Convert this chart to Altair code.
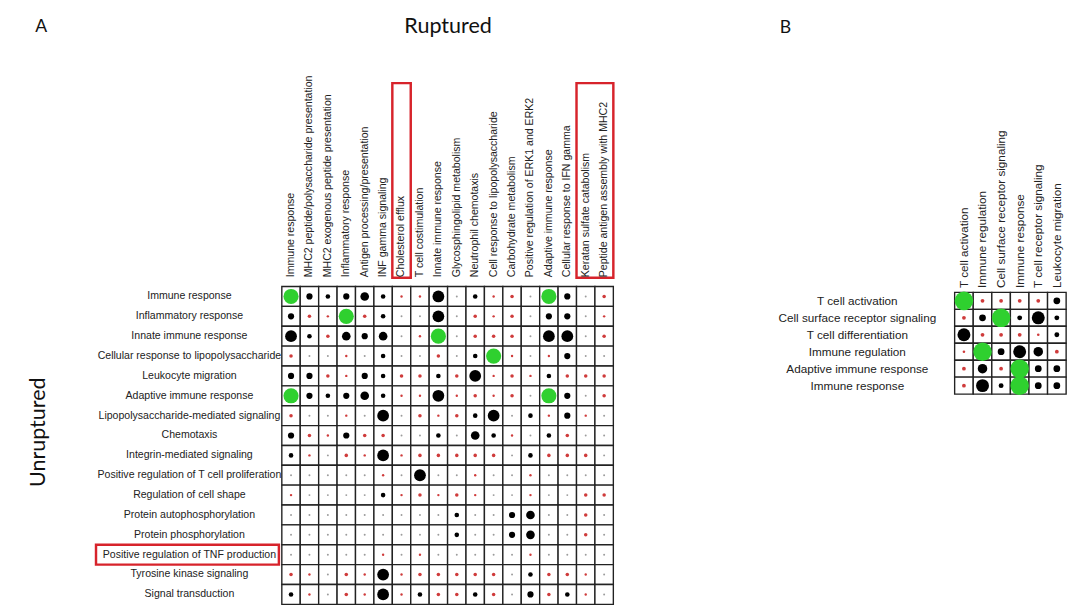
import altair as alt
import pandas as pd

# ---------------- data ----------------
COLS_A = [
    "Immune response",
    "MHC2 peptide/polysaccharide presentation",
    "MHC2 exogenous peptide presentation",
    "Inflammatory response",
    "Antigen processing/presentation",
    "INF gamma signaling",
    "Cholesterol efflux",
    "T cell costimulation",
    "Innate immune response",
    "Glycosphingolipid metabolism",
    "Neutrophil chemotaxis",
    "Cell response to lipopolysaccharide",
    "Carbohydrate metabolism",
    "Positive regulation of ERK1 and ERK2",
    "Adaptive immune response",
    "Cellular response to IFN gamma",
    "Keratan sulfate catabolism",
    "Peptide antigen assembly with MHC2",
]
ROWS_A = [
    "Immune response",
    "Inflammatory response",
    "Innate immune response",
    "Cellular response to lipopolysaccharide",
    "Leukocyte migration",
    "Adaptive immune response",
    "Lipopolysaccharide-mediated signaling",
    "Chemotaxis",
    "Integrin-mediated signaling",
    "Positive regulation of T cell proliferation",
    "Regulation of cell shape",
    "Protein autophosphorylation",
    "Protein phosphorylation",
    "Positive regulation of TNF production",
    "Tyrosine kinase signaling",
    "Signal transduction",
]
# overlap level per cell: 0 none, 1-2 weak (red), 3-6 strong (black), 7 identical term (green)
LEVELS_A = [
    [7, 4, 3, 4, 5, 3, 1, 1, 6, 0, 3, 1, 2, 0, 7, 4, 0, 2],
    [4, 2, 1, 7, 2, 3, 0, 0, 6, 0, 2, 1, 2, 0, 4, 4, 0, 1],
    [6, 3, 2, 5, 4, 5, 0, 1, 7, 0, 2, 2, 2, 0, 6, 6, 0, 2],
    [2, 0, 0, 1, 0, 3, 0, 0, 2, 0, 3, 7, 1, 0, 1, 4, 0, 0],
    [4, 4, 2, 1, 4, 3, 2, 2, 3, 2, 6, 1, 2, 1, 3, 2, 2, 2],
    [7, 4, 3, 4, 5, 3, 1, 1, 6, 1, 2, 1, 2, 0, 7, 4, 0, 2],
    [2, 0, 0, 1, 0, 6, 0, 2, 1, 2, 3, 6, 0, 3, 1, 4, 1, 0],
    [4, 2, 1, 4, 2, 2, 0, 0, 3, 0, 5, 3, 1, 0, 3, 2, 0, 0],
    [3, 1, 0, 2, 1, 6, 1, 2, 2, 2, 2, 2, 0, 3, 2, 2, 2, 0],
    [0, 0, 0, 0, 0, 1, 0, 6, 0, 0, 1, 0, 0, 1, 0, 0, 0, 0],
    [1, 0, 0, 0, 0, 3, 1, 2, 1, 2, 1, 0, 0, 1, 0, 0, 2, 2],
    [0, 0, 0, 0, 0, 0, 0, 0, 0, 3, 0, 0, 4, 5, 0, 0, 2, 0],
    [0, 0, 0, 0, 0, 0, 0, 0, 0, 3, 0, 0, 4, 5, 0, 0, 2, 0],
    [0, 0, 0, 0, 0, 1, 0, 1, 0, 0, 0, 0, 0, 1, 0, 0, 0, 0],
    [2, 1, 0, 2, 1, 6, 1, 2, 2, 2, 2, 2, 0, 3, 2, 2, 1, 0],
    [3, 1, 0, 2, 1, 6, 1, 3, 2, 2, 3, 2, 0, 4, 2, 3, 1, 0],
]

COLS_B = [
    "T cell activation",
    "Immune regulation",
    "Cell surface receptor signaling",
    "Immune response",
    "T cell receptor signaling",
    "Leukocyte migration",
]
ROWS_B = [
    "T cell activation",
    "Cell surface receptor signaling",
    "T cell differentiation",
    "Immune regulation",
    "Adaptive immune response",
    "Immune response",
]
LEVELS_B = [
    [7, 2, 2, 2, 2, 4],
    [2, 4, 7, 3, 6, 3],
    [6, 2, 2, 2, 1, 3],
    [1, 7, 4, 6, 5, 2],
    [2, 5, 2, 7, 4, 4],
    [2, 6, 3, 7, 4, 4],
]

LEVEL_DOMAIN = [0, 1, 2, 3, 4, 5, 6, 7]
LEVEL_CLASS = ["none", "weak", "weak", "strong", "strong", "strong", "strong", "same"]

TITLE_A = "A"
TITLE_B = "B"
TITLE_TOP = "Ruptured"
TITLE_LEFT = "Unruptured"
BOX_COL_SINGLE = ["Cholesterol efflux"]
BOX_COL_PAIR = [("Keratan sulfate catabolism", "Peptide antigen assembly with MHC2")]
BOX_ROW = ["Positive regulation of TNF production"]


def cells(rows, cols, levels):
    recs = []
    for i, r in enumerate(rows):
        for j, c in enumerate(cols):
            lv = levels[i][j]
            recs.append({"row": r, "col": c, "level": lv, "cls": LEVEL_CLASS[lv]})
    return pd.DataFrame(recs)


color_scale = alt.Scale(
    domain=["none", "weak", "strong", "same"],
    range=["#9c9c9c", "#cf3b3b", "#000000", "#2fd02f"],
)
RED = "#d7232b"
LABEL_FONT = "Liberation Sans"
TITLE_FONT = "Lato"


def text_layer(txt, x, y, size, angle=0):
    return alt.Chart(pd.DataFrame({"t": [txt]})).mark_text(
        font=TITLE_FONT, fontSize=size, color="#111", angle=angle,
        align="center", baseline="middle",
    ).encode(text="t:N", x=alt.value(x), y=alt.value(y))


# ---------------- panel A ----------------
df_a = cells(ROWS_A, COLS_A, LEVELS_A)
xa = alt.Scale(domain=COLS_A, paddingInner=0, paddingOuter=0)
ya = alt.Scale(domain=ROWS_A, paddingInner=0, paddingOuter=0)
xaxis_a = alt.Axis(orient="top", labelAngle=270, labelAlign="left", labelBaseline="middle",
                   labelPadding=10, ticks=False, tickSize=0, domain=False, labelFontSize=10.8,
                   labelFont=LABEL_FONT, labelColor="#222", labelLimit=0)
yaxis_a = alt.Axis(orient="left", labelAlign="center", labelBaseline="middle", labelPadding=95,
                   ticks=False, tickSize=0, domain=False, labelFontSize=10.8,
                   labelFont=LABEL_FONT, labelColor="#222", labelLimit=0)

grid_a = alt.Chart(df_a).mark_rect(fill="white", stroke="#222222", strokeWidth=1.4).encode(
    x=alt.X("col:N", scale=xa, axis=xaxis_a, title=None),
    y=alt.Y("row:N", scale=ya, axis=yaxis_a, title=None),
)
dots_a = alt.Chart(df_a).mark_circle(opacity=1).encode(
    x=alt.X("col:N", scale=xa, title=None),
    y=alt.Y("row:N", scale=ya, title=None),
    size=alt.Size("level:Q", scale=alt.Scale(type="linear", domain=LEVEL_DOMAIN,
                  range=[4, 6, 13, 22, 40, 78, 145, 240]), legend=None),
    color=alt.Color("cls:N", scale=color_scale, legend=None),
)
box_col1 = alt.Chart(pd.DataFrame({"col": BOX_COL_SINGLE})).mark_rect(
    filled=False, stroke=RED, strokeWidth=2.5).encode(
    x=alt.X("col:N", scale=xa, title=None), y=alt.value(-208), y2=alt.value(-9))
box_col2 = alt.Chart(pd.DataFrame({"c1": [p[0] for p in BOX_COL_PAIR],
                                   "c2": [p[1] for p in BOX_COL_PAIR]})).mark_rect(
    filled=False, stroke=RED, strokeWidth=2.5).encode(
    x=alt.X("c1:N", scale=xa, title=None, bandPosition=0),
    x2=alt.X2("c2:N", bandPosition=1), y=alt.value(-208), y2=alt.value(-9))
box_row = alt.Chart(pd.DataFrame({"row": BOX_ROW})).mark_rect(
    filled=False, stroke=RED, strokeWidth=2.5).encode(
    y=alt.Y("row:N", scale=ya, title=None), x=alt.value(-190), x2=alt.value(-3))

panel_a = alt.layer(
    grid_a, dots_a, box_col1, box_col2, box_row,
    text_layer(TITLE_A, -246, -265, 18),
    text_layer(TITLE_TOP, 170, -266, 22),
    text_layer(TITLE_LEFT, -249, 149, 22, angle=270),
).properties(width=339, height=325)

# ---------------- panel B ----------------
df_b = cells(ROWS_B, COLS_B, LEVELS_B)
xb = alt.Scale(domain=COLS_B, paddingInner=0, paddingOuter=0)
# band range starts 6 px lower than panel A's grid top
yb = alt.Scale(domain=ROWS_B, paddingInner=0, paddingOuter=0, range=[6, 110])
xaxis_b = alt.Axis(orient="top", labelAngle=270, labelAlign="left", labelBaseline="middle",
                   labelPadding=-1, ticks=False, tickSize=0, domain=False, labelFontSize=12,
                   labelFont=LABEL_FONT, labelColor="#222", labelLimit=0)
yaxis_b = alt.Axis(orient="left", labelAlign="center", labelBaseline="middle", labelPadding=100,
                   ticks=False, tickSize=0, domain=False, labelFontSize=12,
                   labelFont=LABEL_FONT, labelColor="#222", labelLimit=0)
grid_b = alt.Chart(df_b).mark_rect(fill="white", stroke="#222222", strokeWidth=1.4).encode(
    x=alt.X("col:N", scale=xb, axis=xaxis_b, title=None),
    y=alt.Y("row:N", scale=yb, axis=yaxis_b, title=None),
)
dots_b = alt.Chart(df_b).mark_circle(opacity=1).encode(
    x=alt.X("col:N", scale=xb, title=None),
    y=alt.Y("row:N", scale=yb, title=None),
    size=alt.Size("level:Q", scale=alt.Scale(type="linear", domain=LEVEL_DOMAIN,
                  range=[5, 7, 15, 25, 48, 95, 175, 360]), legend=None),
    color=alt.Color("cls:N", scale=color_scale, legend=None),
)
panel_b = alt.layer(
    grid_b, dots_b,
    text_layer(TITLE_B, -173, -264, 18),
).properties(width=114, height=110)

chart = alt.hconcat(panel_a, panel_b, spacing=166).resolve_scale(
    x="independent", y="independent", size="independent"
).properties(
    padding={"left": 20, "top": 1, "right": 5, "bottom": 0}, background="white"
).configure_view(stroke=None)

chart.save("out.html", embed_options={"renderer": "svg", "actions": False})
